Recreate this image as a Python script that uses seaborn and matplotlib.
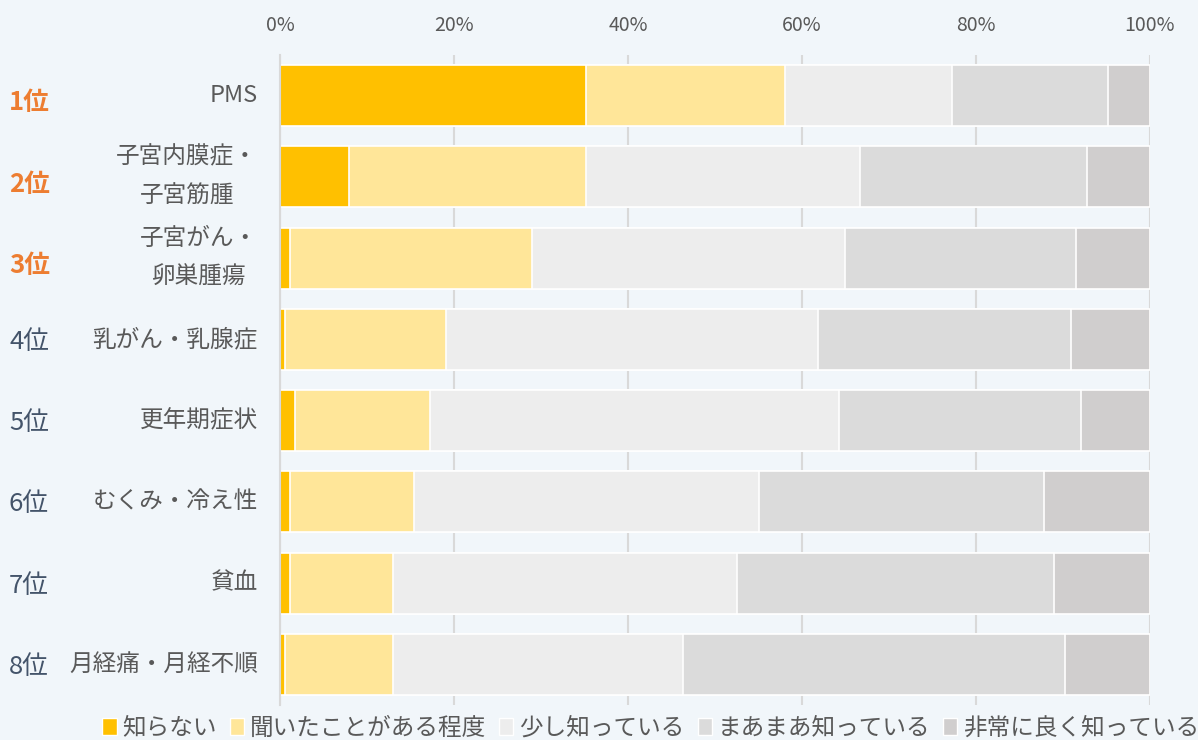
import numpy as np
import pandas as pd
import seaborn as sns
import matplotlib.pyplot as plt
from matplotlib.patches import Patch
import matplotlib.transforms as mtransforms

# data (percent)
items = ['PMS', '子宮内膜症・\n子宮筋腫', '子宮がん・\n卵巣腫瘍', '乳がん・乳腺症',
         '更年期症状', 'むくみ・冷え性', '貧血', '月経痛・月経不順']
ranks = ['1位', '2位', '3位', '4位', '5位', '6位', '7位', '8位']
levels = ['知らない', '聞いたことがある程度', '少し知っている', 'まあまあ知っている', '非常に良く知っている']
shiranai = [35.2, 7.9, 1.1, 0.6, 1.7, 1.1, 1.1, 0.6]
kiita = [22.8, 27.3, 27.9, 18.5, 15.5, 14.3, 11.9, 12.4]
sukoshi = [19.2, 31.5, 35.9, 42.7, 47.1, 39.7, 39.5, 33.3]
maamaa = [18.0, 26.1, 26.6, 29.1, 27.8, 32.7, 36.5, 43.9]
hijou = [4.8, 7.2, 8.5, 9.1, 7.9, 12.2, 11.0, 9.8]
colors = ['#FFC000', '#FFE699', '#EDEDED', '#DBDBDB', '#D0CECE']

bg = '#F1F6FA'
sns.set_style('white')
plt.rcParams['font.family'] = ['Noto Sans CJK JP', 'DejaVu Sans']

df = pd.DataFrame({'item': items, '知らない': shiranai, '聞いたことがある程度': kiita,
                   '少し知っている': sukoshi, 'まあまあ知っている': maamaa,
                   '非常に良く知っている': hijou})
cum = df[levels].cumsum(axis=1)
cum = cum.div(cum[levels[-1]], axis=0) * 100
cum['item'] = items

fig = plt.figure(figsize=(11.98, 7.4), dpi=100, facecolor=bg)
ax = fig.add_axes([280 / 1198, 1 - 705 / 740, 870 / 1198, 650 / 740])
ax.set_facecolor(bg)

# stacked bars: draw cumulative totals from the largest down
for lvl, c in reversed(list(zip(levels, colors))):
    sns.barplot(data=cum, x=lvl, y='item', order=items, color=c, orient='h',
                width=0.75, edgecolor='white', linewidth=1.2, saturation=1, ax=ax)

ax.set_xlim(0, 100)
ax.set_ylim(7.5, -0.5)
ax.set_xticks(range(0, 101, 20))
ax.set_xticklabels([f'{v}%' for v in range(0, 101, 20)])
ax.xaxis.tick_top()
ax.tick_params(axis='x', length=0, pad=14, labelsize=14, labelcolor='#595959')
ax.tick_params(axis='y', length=0, pad=16, labelsize=17, labelcolor='#595959')
for lbl in ax.get_yticklabels():
    lbl.set_linespacing(1.9)
    lbl.set_multialignment('center')
    lbl.set_verticalalignment('center')
ax.set_xlabel('')
ax.set_ylabel('')
ax.grid(axis='x', color='#D9D9D9', lw=1.5)
ax.set_axisbelow(True)
for s in ['top', 'right', 'bottom']:
    ax.spines[s].set_visible(False)
ax.spines['left'].set_color('#D9D9D9')
ax.spines['left'].set_linewidth(1.5)

trans = mtransforms.blended_transform_factory(fig.transFigure, ax.transData)
for i, r in enumerate(ranks):
    top3 = i < 3
    ax.text(9 / 1198, i + (0.09 if top3 else 0.03), r, transform=trans, ha='left',
            va='center', fontsize=18.5,
            color='#ED7D31' if top3 else '#44546A',
            fontweight='bold' if top3 else 'normal')

handles = [Patch(facecolor=c, edgecolor='white', lw=1) for c in colors]
fig.legend(handles, levels, loc='center', bbox_to_anchor=(0.5434, 0.016), ncol=5,
           frameon=False, fontsize=17, handlelength=0.6, handleheight=0.7,
           handletextpad=0.25, columnspacing=0.55, labelcolor='#595959')

fig.savefig('out.png', dpi=100, facecolor=bg)
